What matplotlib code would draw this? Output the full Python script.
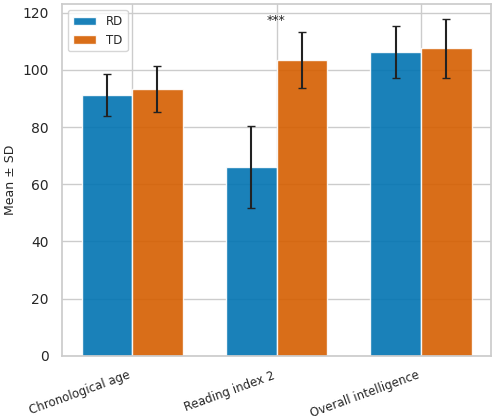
import matplotlib
matplotlib.use("Agg")
import matplotlib.pyplot as plt
import numpy as np
import seaborn as sns

sns.set_theme(style="whitegrid")

categories = ["Chronological age", "Reading index 2", "Overall intelligence"]
rd_mean = [91.2, 66.0, 106.2]
rd_sd = [7.5, 14.3, 9.2]
td_mean = [93.4, 103.5, 107.5]
td_sd = [8.0, 9.7, 10.3]
stars = ["", "***", ""]

fig, ax = plt.subplots(figsize=(4.96, 4.16), dpi=100)
x = np.arange(len(categories))
w = 0.35
ax.bar(x - w / 2, rd_mean, w, yerr=rd_sd, capsize=3, color="#0173B2", alpha=0.9,
       label="RD", error_kw=dict(ecolor="#222222", lw=1.5))
ax.bar(x + w / 2, td_mean, w, yerr=td_sd, capsize=3, color="#D55E00", alpha=0.9,
       label="TD", error_kw=dict(ecolor="#222222", lw=1.5))
for i, s in enumerate(stars):
    if s:
        ax.text(x[i], 115, s, ha="center", va="bottom", fontsize=9)

ax.set_xticks(x)
ax.set_xticklabels(categories, rotation=20, ha="right", fontsize=8.5)
ax.tick_params(axis="y", labelsize=10)
ax.set_ylabel("Mean ± SD", fontsize=9)
ax.set_ylim(0, 123)
ax.legend(loc="upper left", fontsize=8.5)
fig.subplots_adjust(left=0.125, right=0.99, top=0.99, bottom=0.145)
fig.savefig("out.png")
